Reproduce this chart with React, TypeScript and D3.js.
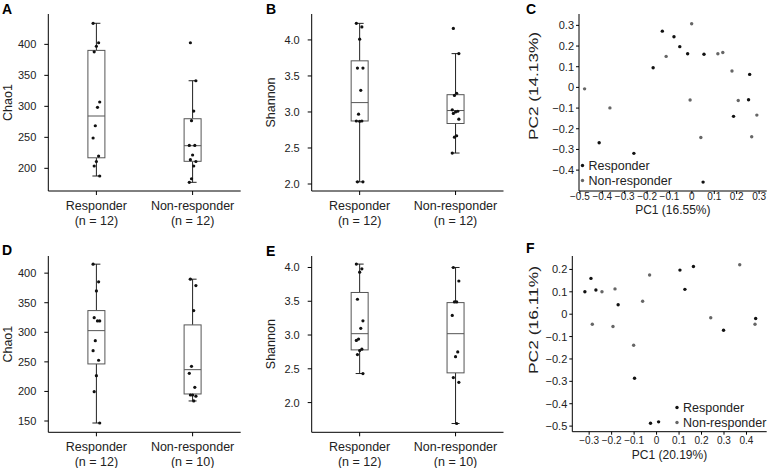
import React from "react";
import * as d3 from "d3";

const groupNames = ["Responder", "Non-responder"];

// ---------- Panel A : Chao1 (top row) ----------
const chaoA_n = [12, 12];
const chaoA_responder = [434, 402.6, 397, 388, 307, 298.4, 268.7, 248.9, 219.8, 211, 203.7, 187.6];
const chaoA_nonresponder = [402.6, 341.3, 292.4, 276.8, 237, 237, 221.5, 214, 211, 203.7, 183.2, 177.4];
// [lower whisker, Q1, median, Q3, upper whisker]
const chaoA_respBox = [187.6, 217, 284.4, 390.3, 434];
const chaoA_nonBox = [177.4, 211.3, 236.5, 280, 341.3];
const chaoA_ticks = [200, 250, 300, 350, 400];

// ---------- Panel B : Shannon (top row) ----------
const shanB_n = [12, 12];
const shanB_responder = [4.23, 4.18, 4.01, 3.61, 3.61, 3.3, 2.97, 2.875, 2.875, 2.87, 2.03, 2.03];
const shanB_nonresponder = [4.16, 3.81, 3.26, 3.23, 3.03, 3.01, 3.0, 2.98, 2.9, 2.67, 2.65, 2.43];
const shanB_respBox = [2.03, 2.875, 3.13, 3.71, 4.23];
const shanB_nonBox = [2.43, 2.84, 3.02, 3.24, 3.81];
const shanB_ticks = [2.0, 2.5, 3.0, 3.5, 4.0];

// ---------- Panel C : PCA (top row) ----------
const pcaC_respX = [-0.132, -0.08, -0.054, -0.019, 0.054, -0.173, 0.258, 0.253, 0.186, -0.414, -0.259, 0.05];
const pcaC_respY = [0.272, 0.245, 0.197, 0.163, 0.16, 0.095, 0.063, -0.06, -0.14, -0.268, -0.319, -0.458];
const pcaC_nonX = [-0.001, -0.115, 0.116, 0.138, 0.179, -0.479, -0.366, -0.008, 0.207, 0.29, 0.267, 0.04];
const pcaC_nonY = [0.308, 0.15, 0.163, 0.169, 0.079, -0.007, -0.099, -0.061, -0.063, -0.134, -0.239, -0.242];
const pcaC_xTicks = [-0.5, -0.4, -0.3, -0.2, -0.1, 0, 0.1, 0.2, 0.3];
const pcaC_yTicks = [-0.4, -0.3, -0.2, -0.1, 0, 0.1, 0.2, 0.3];
const pcaC_xTitle = "PC1 (16.55%)";
const pcaC_yTitle = "PC2 (14.13%)";

// ---------- Panel D : Chao1 (bottom row) ----------
const chaoD_n = [12, 10];
const chaoD_responder = [415.2, 385.3, 370, 324.8, 319.2, 319.2, 285.9, 268.9, 252.7, 226.7, 199.6, 146.6];
const chaoD_nonresponder = [389.8, 379, 336.7, 242.5, 230.7, 207, 194, 194, 192, 183.9];
const chaoD_respBox = [146.6, 246.5, 302.8, 336.7, 415.2];
const chaoD_nonBox = [183.9, 195.7, 236.8, 312.5, 389.8];
const chaoD_ticks = [150, 200, 250, 300, 350, 400];

// ---------- Panel E : Shannon (bottom row) ----------
const shanE_n = [12, 10];
const shanE_responder = [4.05, 3.98, 3.93, 3.53, 3.21, 3.1, 2.94, 2.92, 2.79, 2.77, 2.71, 2.43];
const shanE_nonresponder = [4.0, 3.8, 3.49, 3.49, 3.29, 2.75, 2.68, 2.37, 2.3, 1.69];
const shanE_respBox = [2.43, 2.78, 3.02, 3.63, 4.05];
const shanE_nonBox = [1.69, 2.44, 3.02, 3.48, 4.0];
const shanE_ticks = [2.0, 2.5, 3.0, 3.5, 4.0];

// ---------- Panel F : PCA (bottom row) ----------
const pcaF_respX = [-0.292, -0.319, -0.27, -0.171, -0.098, -0.027, 0.009, 0.104, 0.164, 0.126, 0.298, 0.441];
const pcaF_respY = [0.16, 0.1, 0.108, 0.042, -0.286, -0.487, -0.481, 0.197, 0.213, 0.111, -0.072, -0.019];
const pcaF_nonX = [-0.243, -0.185, -0.286, -0.194, -0.031, -0.062, -0.102, 0.241, 0.37, 0.438];
const pcaF_nonY = [0.1, 0.113, -0.045, -0.055, 0.175, 0.058, -0.139, -0.016, 0.221, -0.045];
const pcaF_xTicks = [-0.3, -0.2, -0.1, 0, 0.1, 0.2, 0.3, 0.4];
const pcaF_yTicks = [-0.5, -0.4, -0.3, -0.2, -0.1, 0, 0.1, 0.2];
const pcaF_xTitle = "PC1 (20.19%)";
const pcaF_yTitle = "PC2 (16.11%)";

const FONT = "'Liberation Sans', Arial, Helvetica, sans-serif";
const BOX_STROKE = "#555";
const LINE = "#222";
const RESP_COL = "#111";
const NON_COL = "#666";

const jit = (i: number) => (((i * 5) % 7) - 3) * 1.1;

const fmtPC = (v: number) => (Math.abs(v) < 1e-9 ? "0" : d3.format(".1f")(v));

type BoxProps = {
  letter: string;
  letterX: number;
  letterY: number;
  x0: number;
  x1: number;
  y0: number;
  y1: number;
  yDomain: [number, number];
  ticks: number[];
  fmt: (v: number) => string;
  title: string;
  titleX: number;
  ns: number[];
  values: number[][];
  boxes: number[][];
};

function BoxPanel(p: BoxProps) {
  const y = d3.scaleLinear().domain(p.yDomain).range([p.y1, p.y0]);
  const x = d3.scalePoint<string>().domain(groupNames).range([p.x0, p.x1]).padding(0.5);
  const bw = 17;
  const cap = 8;
  return (
    <g fontFamily={FONT}>
      <text x={p.letterX} y={p.letterY} fontSize={14} fontWeight="bold" fill="#000">
        {p.letter}
      </text>
      <line x1={p.x0} x2={p.x0} y1={p.y0} y2={p.y1} stroke="#000" strokeWidth={1} />
      <line x1={p.x0} x2={p.x1} y1={p.y1} y2={p.y1} stroke="#000" strokeWidth={1} />
      {p.ticks.map((t) => (
        <g key={t}>
          <line x1={p.x0 - 4} x2={p.x0} y1={y(t)} y2={y(t)} stroke="#000" />
          <text x={p.x0 - 12} y={y(t)} textAnchor="end" dominantBaseline="central" fontSize={11} fill="#222">
            {p.fmt(t)}
          </text>
        </g>
      ))}
      <text
        transform={`translate(${p.titleX},${(p.y0 + p.y1) / 2}) rotate(-90)`}
        textAnchor="middle"
        dominantBaseline="central"
        fontSize={12.5}
        fill="#222"
      >
        {p.title}
      </text>
      {groupNames.map((g, gi) => {
        const cx = x(g) as number;
        const [wl, q1, md, q3, wh] = p.boxes[gi];
        return (
          <g key={g}>
            <line x1={cx} x2={cx} y1={p.y1} y2={p.y1 + 4} stroke="#000" />
            <text x={cx} y={p.y1 + 15} textAnchor="middle" dominantBaseline="central" fontSize={12.5} fill="#222">
              {g}
            </text>
            <text x={cx} y={p.y1 + 29.5} textAnchor="middle" dominantBaseline="central" fontSize={12.5} fill="#222">
              {`(n = ${p.ns[gi]})`}
            </text>
            <line x1={cx} x2={cx} y1={y(wh)} y2={y(q3)} stroke={LINE} />
            <line x1={cx} x2={cx} y1={y(q1)} y2={y(wl)} stroke={LINE} />
            <line x1={cx - cap / 2} x2={cx + cap / 2} y1={y(wh)} y2={y(wh)} stroke={LINE} />
            <line x1={cx - cap / 2} x2={cx + cap / 2} y1={y(wl)} y2={y(wl)} stroke={LINE} />
            <rect x={cx - bw / 2} y={y(q3)} width={bw} height={y(q1) - y(q3)} fill="#fff" stroke={BOX_STROKE} strokeWidth={1} />
            <line x1={cx - bw / 2} x2={cx + bw / 2} y1={y(md)} y2={y(md)} stroke={BOX_STROKE} />
            {p.values[gi].map((v, i) => (
              <circle key={i} cx={cx + jit(i + gi * 3)} cy={y(v)} r={1.6} fill="#111" />
            ))}
          </g>
        );
      })}
    </g>
  );
}

type PcaProps = {
  letter: string;
  letterX: number;
  letterY: number;
  x0: number;
  x1: number;
  y0: number;
  y1: number;
  xDomain: [number, number];
  yDomain: [number, number];
  xTicks: number[];
  yTicks: number[];
  xTitle: string;
  yTitle: string;
  xTitleY: number;
  yTitleCY: number;
  xTickY: number;
  respX: number[];
  respY: number[];
  nonX: number[];
  nonY: number[];
  legX: number;
  legY: number;
};

function PcaPanel(p: PcaProps) {
  const x = d3.scaleLinear().domain(p.xDomain).range([p.x0, p.x1]);
  const y = d3.scaleLinear().domain(p.yDomain).range([p.y1, p.y0]);
  return (
    <g fontFamily={FONT}>
      <text x={p.letterX} y={p.letterY} fontSize={14} fontWeight="bold" fill="#000">
        {p.letter}
      </text>
      <line x1={p.x0} x2={p.x0} y1={p.y0} y2={p.y1} stroke="#000" />
      <line x1={p.x0} x2={p.x1} y1={p.y1} y2={p.y1} stroke="#000" />
      {p.yTicks.map((t) => (
        <g key={t}>
          <line x1={p.x0 - 3} x2={p.x0} y1={y(t)} y2={y(t)} stroke="#000" />
          <text x={p.x0 - 5} y={y(t)} textAnchor="end" dominantBaseline="central" fontSize={11} fill="#222">
            {fmtPC(t)}
          </text>
        </g>
      ))}
      {p.xTicks.map((t) => (
        <g key={t}>
          <line x1={x(t)} x2={x(t)} y1={p.y1} y2={p.y1 + 3} stroke="#000" />
          <text x={x(t)} y={p.xTickY} textAnchor="middle" dominantBaseline="central" fontSize={10} fill="#222">
            {fmtPC(t)}
          </text>
        </g>
      ))}
      <text x={(p.x0 + p.x1) / 2} y={p.xTitleY} textAnchor="middle" dominantBaseline="central" fontSize={12} fill="#222">
        {p.xTitle}
      </text>
      <text
        transform={`translate(533.5,${p.yTitleCY}) rotate(-90)`}
        textAnchor="middle"
        dominantBaseline="central"
        fontSize={12}
        textLength={108}
        lengthAdjust="spacingAndGlyphs"
        fill="#222"
      >
        {p.yTitle}
      </text>
      {p.nonX.map((v, i) => (
        <circle key={"n" + i} cx={x(v)} cy={y(p.nonY[i])} r={1.7} fill={NON_COL} />
      ))}
      {p.respX.map((v, i) => (
        <circle key={"r" + i} cx={x(v)} cy={y(p.respY[i])} r={1.7} fill={RESP_COL} />
      ))}
      {groupNames.map((g, i) => (
        <g key={g}>
          <circle cx={p.legX} cy={p.legY + i * 15} r={1.7} fill={i === 0 ? RESP_COL : NON_COL} />
          <text x={p.legX + 6} y={p.legY + i * 15} dominantBaseline="central" fontSize={12.5} fill="#222">
            {g}
          </text>
        </g>
      ))}
    </g>
  );
}

export default function App() {
  const f1 = d3.format(".1f");
  const f0 = d3.format("d");
  return (
    <svg width={768} height={468} style={{ position: "absolute", left: 0, top: 0, background: "#fff" }}>
      <rect width={768} height={468} fill="#fff" />
      <BoxPanel
        letter="A" letterX={2} letterY={14}
        x0={48.3} x1={240.7} y0={14} y1={191}
        yDomain={[163.4, 449]} ticks={chaoA_ticks} fmt={f0} title="Chao1" titleX={7.5}
        ns={chaoA_n} values={[chaoA_responder, chaoA_nonresponder]} boxes={[chaoA_respBox, chaoA_nonBox]}
      />
      <BoxPanel
        letter="B" letterX={266} letterY={14}
        x0={311.7} x1={503.5} y0={14} y1={191}
        yDomain={[1.903, 4.36]} ticks={shanB_ticks} fmt={f1} title="Shannon" titleX={270.5}
        ns={shanB_n} values={[shanB_responder, shanB_nonresponder]} boxes={[shanB_respBox, shanB_nonBox]}
      />
      <PcaPanel
        letter="C" letterX={526} letterY={14}
        x0={579} x1={766.7} y0={14} y1={191}
        xDomain={[-0.504, 0.334]} yDomain={[-0.501, 0.355]}
        xTicks={pcaC_xTicks} yTicks={pcaC_yTicks}
        xTitle={pcaC_xTitle} yTitle={pcaC_yTitle} xTitleY={210} yTitleCY={86} xTickY={196}
        respX={pcaC_respX} respY={pcaC_respY} nonX={pcaC_nonX} nonY={pcaC_nonY}
        legX={582.5} legY={165.5}
      />
      <BoxPanel
        letter="D" letterX={2} letterY={255}
        x0={48.3} x1={240.7} y0={256} y1={432.3}
        yDomain={[130.9, 429]} ticks={chaoD_ticks} fmt={f0} title="Chao1" titleX={7.5}
        ns={chaoD_n} values={[chaoD_responder, chaoD_nonresponder]} boxes={[chaoD_respBox, chaoD_nonBox]}
      />
      <BoxPanel
        letter="E" letterX={266} letterY={256}
        x0={311.7} x1={503.5} y0={256} y1={432.3}
        yDomain={[1.56, 4.17]} ticks={shanE_ticks} fmt={f1} title="Shannon" titleX={270.5}
        ns={shanE_n} values={[shanE_responder, shanE_nonresponder]} boxes={[shanE_respBox, shanE_nonBox]}
      />
      <PcaPanel
        letter="F" letterX={526} letterY={253}
        x0={572.3} x1={766.7} y0={256} y1={431.7}
        xDomain={[-0.375, 0.49]} yDomain={[-0.525, 0.26]}
        xTicks={pcaF_xTicks} yTicks={pcaF_yTicks}
        xTitle={pcaF_xTitle} yTitle={pcaF_yTitle} xTitleY={455} yTitleCY={320} xTickY={440.5}
        respX={pcaF_respX} respY={pcaF_respY} nonX={pcaF_nonX} nonY={pcaF_nonY}
        legX={677} legY={407.5}
      />
    </svg>
  );
}
